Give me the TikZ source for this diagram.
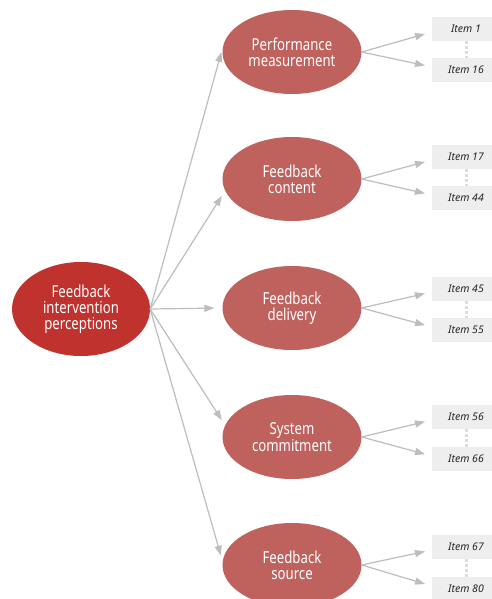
\documentclass[tikz,border=0pt]{standalone}
\usepackage{fontspec}
\setmainfont{Noto Sans}
\newfontfamily\labfont[FakeStretch=0.80]{Noto Sans}
\usetikzlibrary{arrows.meta,shapes.geometric}
\definecolor{mainred}{HTML}{C0322E}
\definecolor{subred}{HTML}{BF615D}
\definecolor{conn}{HTML}{BDBDBD}
\definecolor{boxgray}{HTML}{EEEEEE}
\definecolor{dotgray}{HTML}{DDDDDD}
\tikzset{
  mainell/.style={ellipse, fill=mainred, minimum width=138pt, minimum height=94pt, inner sep=0pt,
    text=white, align=center, font=\labfont\fontsize{16.5}{16}\selectfont},
  subell/.style={ellipse, fill=subred, minimum width=139pt, minimum height=84pt, inner sep=0pt,
    text=white, align=center, font=\labfont\fontsize{16.5}{16}\selectfont},
  itembox/.style={rectangle, fill=boxgray, minimum width=68pt, minimum height=24pt, inner sep=0pt,
    text=black!85, font=\itshape\fontsize{10.5}{12}\selectfont},
  conn/.style={draw=conn, line width=1.2pt, -{Triangle[length=10pt,width=7pt]}, shorten >=6pt},
  rconn/.style={draw=conn, line width=1.2pt, -{Triangle[length=10pt,width=7pt]}, shorten >=7pt},
  dots/.style={draw=dotgray, line width=3pt, dash pattern=on 3pt off 2pt}
}
\begin{document}
\begin{tikzpicture}[x=1pt,y=-1pt]
\useasboundingbox (0,0) rectangle (491,599);
\fill[white] (0,0) rectangle (491,599);
\node[mainell] (m) at (81,309) {Feedback\\intervention\\perceptions};
\node[subell] (e1) at (292,52) {Performance\\measurement};
\node[subell] (e2) at (292,179) {Feedback\\content};
\node[subell] (e3) at (292,308) {Feedback\\delivery};
\node[subell] (e4) at (292,437) {System\\commitment};
\node[subell] (e5) at (292,565) {Feedback\\source};
\node[itembox] (a1) at (466,29) {Item 1};
\node[itembox] (b1) at (466,70) {Item 16};
\node[itembox] (a2) at (466,157) {Item 17};
\node[itembox] (b2) at (466,198) {Item 44};
\node[itembox] (a3) at (466,289) {Item 45};
\node[itembox] (b3) at (466,330) {Item 55};
\node[itembox] (a4) at (466,417) {Item 56};
\node[itembox] (b4) at (466,459) {Item 66};
\node[itembox] (a5) at (466,547) {Item 67};
\node[itembox] (b5) at (466,589) {Item 80};
\draw[conn, shorten >=5pt] (m.east) -- (e1.176);
\draw[conn] (m.east) -- (e2.190);
\draw[conn, shorten >=8pt] (m.east) -- (e3.west);
\draw[conn] (m.east) -- (e4.170);
\draw[conn] (m.east) -- (e5.177);
\foreach \i in {1,...,5}{
  \draw[rconn] (e\i.east) -- (a\i.185);
  \draw[rconn] (e\i.east) -- (b\i.175);
  \draw[dots] (a\i.south) -- (b\i.north);
}
\end{tikzpicture}
\end{document}
